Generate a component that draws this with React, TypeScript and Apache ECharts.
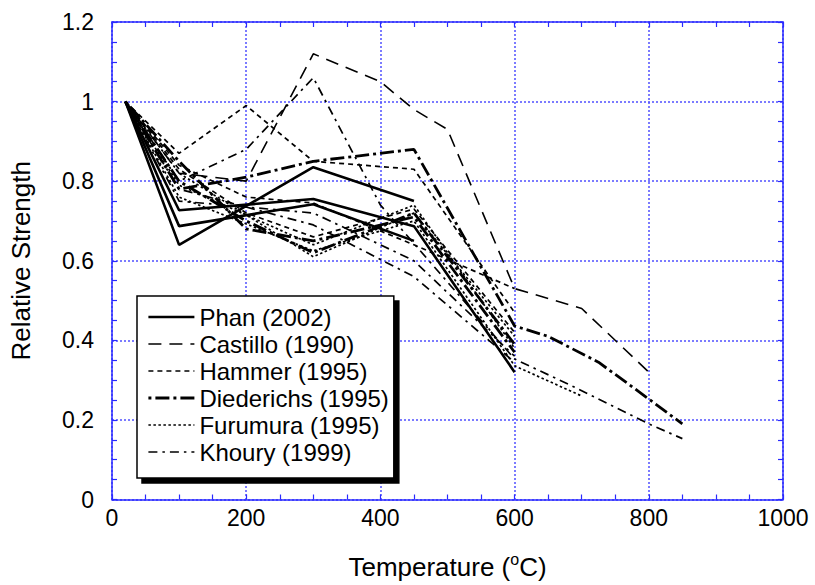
import React, { useEffect, useRef } from "react";
import * as echarts from "echarts";

// Legend order / author names
const authors = [
  "Phan (2002)",
  "Castillo (1990)",
  "Hammer (1995)",
  "Diederichs (1995)",
  "Furumura (1995)",
  "Khoury (1999)",
];

// x axis: Temperature (°C), y axis: Relative strength
const xTicks = [0, 200, 400, 600, 800, 1000];
const yTicks = [0, 0.2, 0.4, 0.6, 0.8, 1, 1.2];

// Phan (2002)
const phanA = [[20, 1], [100, 0.64], [300, 0.835], [450, 0.75]];
const phanB = [[20, 1], [100, 0.727], [300, 0.755], [450, 0.687], [600, 0.32]];
const phanC = [[20, 1], [100, 0.687], [300, 0.742], [450, 0.65]];

// Castillo (1990)
const castilloA = [[20, 1], [100, 0.82], [200, 0.8], [300, 1.12], [400, 1.05], [450, 0.98], [500, 0.93], [600, 0.53], [700, 0.48], [800, 0.32]];

// Hammer (1995)
const hammerA = [[20, 1], [100, 0.87], [200, 0.99], [300, 0.85], [450, 0.83], [600, 0.47]];
const hammerB = [[20, 1], [100, 0.83], [200, 0.72], [300, 0.66], [450, 0.73], [600, 0.42]];
const hammerC = [[20, 1], [100, 0.84], [200, 0.76], [300, 0.745], [450, 0.64], [600, 0.53]];

// Diederichs (1995)
const diederichsA = [[20, 1], [100, 0.78], [200, 0.81], [300, 0.85], [450, 0.88], [600, 0.436], [650, 0.41], [725, 0.345], [790, 0.265], [850, 0.19]];
const diederichsB = [[20, 1], [100, 0.8], [200, 0.7], [300, 0.62], [450, 0.72], [600, 0.39]];
const diederichsC = [[20, 1], [100, 0.85], [200, 0.68], [300, 0.65], [450, 0.71], [600, 0.37]];

// Furumura (1995)
const furumuraA = [[20, 1], [100, 0.82], [300, 0.61], [450, 0.72], [600, 0.41]];
const furumuraB = [[20, 1], [100, 0.79], [300, 0.64], [450, 0.74], [600, 0.38]];
const furumuraC = [[20, 1], [100, 0.76], [300, 0.625], [450, 0.7], [600, 0.336], [700, 0.26]];

// Khoury (1999)
const khouryA = [[20, 1], [100, 0.8], [200, 0.88], [300, 1.06], [400, 0.74], [600, 0.353], [680, 0.29], [800, 0.19], [850, 0.153]];
const khouryB = [[20, 1], [100, 0.75], [300, 0.72], [450, 0.6], [600, 0.36]];
const khouryC = [[20, 1], [100, 0.78], [300, 0.69], [450, 0.56], [600, 0.345]];

const groups: [string, number[][][]][] = [
  [authors[0], [phanA, phanB, phanC]],
  [authors[1], [castilloA]],
  [authors[2], [hammerA, hammerB, hammerC]],
  [authors[3], [diederichsA, diederichsB, diederichsC]],
  [authors[4], [furumuraA, furumuraB, furumuraC]],
  [authors[5], [khouryA, khouryB, khouryC]],
];

const lineStyles: Record<string, { type: any; width: number }> = {
  "Phan (2002)": { type: "solid", width: 2.6 },
  "Castillo (1990)": { type: [13, 8], width: 1.6 },
  "Hammer (1995)": { type: [5, 4], width: 1.7 },
  "Diederichs (1995)": { type: [3, 4, 14, 4], width: 2.8 },
  "Furumura (1995)": { type: [2.5, 2.5], width: 1.7 },
  "Khoury (1999)": { type: [9, 5, 2.5, 5], width: 1.7 },
};

const FONT = "Liberation Sans, Arial, sans-serif";
const AXIS_BLUE = "#2a2aff";
const GRID_BLUE = "#5050ff";

export default function App() {
  const ref = useRef<HTMLDivElement>(null);
  useEffect(() => {
    if (!ref.current) return;
    const chart = echarts.init(ref.current, undefined, { renderer: "svg" });
    const series: any[] = [];
    groups.forEach(([name, lines]) => {
      lines.forEach((d) => {
        series.push({
          type: "line",
          name,
          data: d,
          symbol: "none",
          xAxisIndex: 0,
          yAxisIndex: 0,
          lineStyle: { color: "#000", type: lineStyles[name].type, width: lineStyles[name].width },
          itemStyle: { color: "#000" },
          emphasis: { disabled: true },
        });
      });
    });
    const common = {
      type: "value",
      axisLine: { show: true, onZero: false, lineStyle: { color: AXIS_BLUE, width: 1.5 } },
      axisTick: { show: true, inside: true, length: 5, lineStyle: { color: AXIS_BLUE, width: 1.2 } },
      minorTick: { show: true, splitNumber: 4, length: 5, lineStyle: { color: AXIS_BLUE, width: 1.2 } },
    };
    chart.setOption({
      animation: false,
      backgroundColor: "#fff",
      grid: { left: 112, top: 22, right: 32, bottom: 84, containLabel: false },
      xAxis: [
        {
          ...common,
          position: "bottom",
          min: xTicks[0],
          max: xTicks[xTicks.length - 1],
          interval: 200,
          name: "Temperature ({sup|o}C)",
          nameLocation: "middle",
          nameGap: 52,
          nameTextStyle: {
            fontFamily: FONT,
            fontSize: 26,
            color: "#000",
            rich: { sup: { fontFamily: FONT, fontSize: 16, color: "#000", padding: [0, 0, 15, 0] } },
          },
          axisLabel: { fontFamily: FONT, fontSize: 23, color: "#000", margin: 7, formatter: (v: number) => String(v) },
          splitLine: { show: true, lineStyle: { color: GRID_BLUE, type: [2, 2], width: 1.5 } },
        },
        {
          ...common,
          position: "top",
          min: xTicks[0],
          max: xTicks[xTicks.length - 1],
          interval: 200,
          axisLabel: { show: false },
          splitLine: { show: false },
        },
      ],
      yAxis: [
        {
          ...common,
          position: "left",
          min: yTicks[0],
          max: yTicks[yTicks.length - 1],
          interval: 0.2,
          name: "Relative Strength",
          nameLocation: "middle",
          nameGap: 78,
          nameTextStyle: { fontFamily: FONT, fontSize: 26, color: "#000" },
          axisLabel: { fontFamily: FONT, fontSize: 23, color: "#000", margin: 18, formatter: (v: number) => String(Math.round(v * 10) / 10) },
          splitLine: { show: true, lineStyle: { color: GRID_BLUE, type: [2, 2], width: 1.5 } },
        },
        {
          ...common,
          position: "right",
          min: yTicks[0],
          max: yTicks[yTicks.length - 1],
          interval: 0.2,
          axisLabel: { show: false },
          splitLine: { show: false },
        },
      ],
      legend: {
        show: true,
        orient: "vertical",
        left: 137,
        top: 296,
        data: authors.map((a) => ({
          name: a,
          lineStyle: { color: "#000", type: lineStyles[a].type, width: lineStyles[a].width },
        })),
        itemWidth: 46,
        itemHeight: 14,
        itemGap: 3.0,
        padding: [9, 5, 14, 10],
        backgroundColor: "#fff",
        borderColor: "#000",
        borderWidth: 1.5,
        shadowColor: "#000",
        shadowBlur: 0,
        shadowOffsetX: 5,
        shadowOffsetY: 5,
        itemStyle: { opacity: 0 },
        textStyle: { fontFamily: FONT, fontSize: 24, color: "#000" },
        selectedMode: false,
      },
      series,
    });
    return () => chart.dispose();
  }, []);
  return <div ref={ref} style={{ position: "fixed", left: 0, top: 0, width: 815, height: 585 }} />;
}
